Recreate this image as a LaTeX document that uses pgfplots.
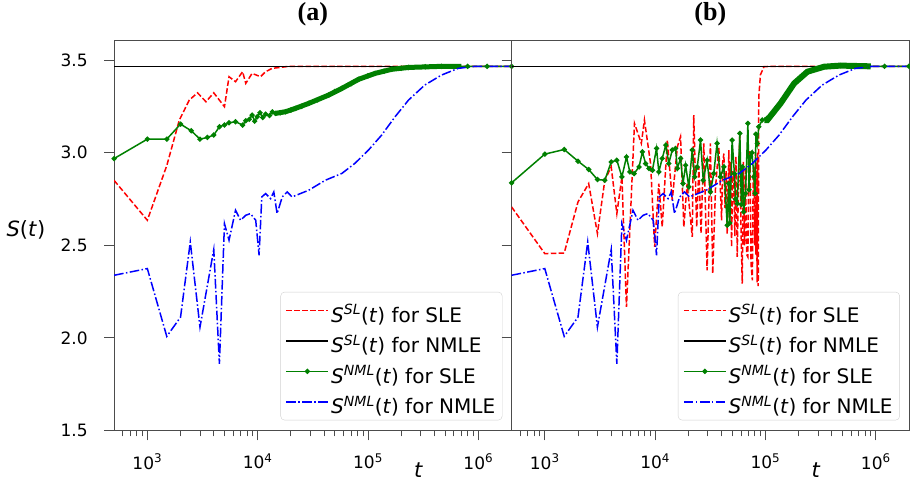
\documentclass[border=0pt]{standalone}
\usepackage{fontspec}
\setmainfont{DejaVu Sans}
\newfontfamily\titlefont{Liberation Serif}
\usepackage{pgfplots}
\pgfplotsset{compat=1.18}
\definecolor{mred}{RGB}{255,0,0}
\definecolor{mgreen}{RGB}{0,128,0}
\definecolor{mblue}{RGB}{0,0,255}
\newcommand{\lstrut}{\rule[-10bp]{0pt}{35bp}}
\newcommand{\Ssl}{\lstrut\textit{S}\textsuperscript{\textit{SL}}(\textit{t})}
\newcommand{\Snml}{\lstrut\textit{S}\textsuperscript{\textit{NML}}(\textit{t})}

\pgfplotsset{
 legend image code/.code={\draw[mark repeat=2,mark phase=2,#1] plot coordinates {(0bp,0bp) (21bp,0bp) (42bp,0bp)};},
}

\begin{document}
\begin{tikzpicture}
\useasboundingbox (-114bp,-50bp) rectangle (795bp,430bp);

% ---------------- (a) ----------------
\begin{axis}[
  xmode=log,
  scale only axis, width=397bp, height=390bp,
  xmin=500, xmax=2000000, ymin=1.5, ymax=3.608,
  at={(0bp,0bp)}, anchor=south west,
  ytick={1.5,2.0,2.5,3.0,3.5},
  yticklabels={1.5,2.0,2.5,3.0,3.5},
  xtick={1000,10000,100000,1000000},
  xticklabels={10\textsuperscript{3},10\textsuperscript{4},10\textsuperscript{5},10\textsuperscript{6}},
  minor xtick={600,700,800,900,2000,3000,4000,5000,6000,7000,8000,9000,20000,30000,40000,50000,60000,70000,80000,90000,200000,300000,400000,500000,600000,700000,800000,900000},
  tick align=outside, tick pos=left,
  major tick length=10bp, minor tick length=6bp,
  tick style={black!70, line width=0.8bp},
  axis line style={black!70, line width=0.8bp},
  ticklabel style={font=\fontsize{17bp}{20bp}\selectfont},
  yticklabel shift=13bp,
  xticklabel shift=10bp,
  xlabel={\textit{t}},
  xlabel style={font=\fontsize{21bp}{24bp}\selectfont, inner sep=0pt, at={(axis description cs:0.766,-0.101)}, anchor=center},
  ylabel={\textit{S}(\textit{t})},
  ylabel style={font=\fontsize{21bp}{24bp}\selectfont, rotate=-90, at={(axis description cs:-0.222,0.513)}, anchor=center},
  title={(a)},
  title style={font=\titlefont\bfseries\fontsize{26bp}{29bp}\selectfont, at={(axis description cs:0.5,1.05)}, anchor=center},
  legend cell align=left,
  legend style={at={(0.977,0.026)}, anchor=south east, draw=black!18, rounded corners=4bp,
    fill=white, fill opacity=0.8, text opacity=1, font=\fontsize{20bp}{24bp}\selectfont,
    inner xsep=5bp, inner ysep=3bp},
]
\addplot[mred, line width=1.5bp, dash pattern=on 5.5bp off 2.4bp, mark=none] coordinates {
(500,2.85)(1000,2.635)(1500,2.93)(1950,3.176)(2400,3.284)(2850,3.323)(3400,3.275)(4000,3.323)(5000,3.248)(5500,3.41)(6300,3.383)(7300,3.437)(7800,3.374)(8900,3.428)(10600,3.41)(11800,3.437)(13500,3.455)(19200,3.466)(2000000,3.466)};
\addlegendentry{\Ssl\ for SLE}
\addplot[black, line width=1.5bp, mark=none] coordinates {(500,3.466)(2000000,3.466)};
\addlegendentry{\Ssl\ for NMLE}
\addplot[mgreen, line width=5bp, mark=none, forget plot] coordinates {
(14500,3.212)(17900,3.221)(22000,3.239)(29000,3.266)(44000,3.311)(58000,3.347)(82200,3.396)(116000,3.428)(164000,3.45)(233000,3.46)(462000,3.466)(700000,3.466)};
\addplot[mgreen, line width=1.5bp, mark=*, mark size=1.8bp, mark options={solid}] coordinates {
(500,2.968)(1000,3.073)(1500,3.073)(2000,3.154)(2500,3.118)(3000,3.073)(3500,3.082)(4000,3.095)(4500,3.14)(5000,3.149)(5500,3.161)(6300,3.167)(7300,3.149)(7800,3.172)(8400,3.18)(8900,3.203)(9400,3.17)(9900,3.194)(10500,3.215)(11100,3.19)(11800,3.208)(12800,3.2)(13600,3.22)(14500,3.212)(16000,3.215)(17900,3.221)(20000,3.23)(22000,3.239)(25000,3.25)(29000,3.266)(35000,3.285)(44000,3.311)(50000,3.33)(58000,3.347)(70000,3.372)(82200,3.396)(100000,3.415)(116000,3.428)(140000,3.44)(164000,3.45)(200000,3.456)(233000,3.46)(330000,3.464)(462000,3.466)(800000,3.466)(1200000,3.466)(2000000,3.466)};
\addlegendentry{\Snml\ for SLE}
\addplot[mblue, line width=1.5bp, dash pattern=on 9.6bp off 2.4bp on 1.5bp off 2.4bp, mark=none] coordinates {
(500,2.338)(1000,2.374)(1500,2.008)(2000,2.112)(2450,2.518)(3000,2.058)(4000,2.477)(4500,1.86)(5000,2.617)(5500,2.527)(6300,2.689)(7000,2.635)(7800,2.662)(8600,2.671)(9600,2.635)(10300,2.446)(10900,2.761)(11800,2.779)(13100,2.752)(14000,2.788)(15000,2.671)(16700,2.761)(18500,2.788)(20500,2.761)(29000,2.797)(41000,2.851)(58000,2.888)(76000,2.942)(101000,3.014)(133000,3.095)(176000,3.194)(233000,3.284)(327000,3.365)(464000,3.419)(655000,3.455)(930000,3.466)(2000000,3.466)};
\addlegendentry{\Snml\ for NMLE}
\end{axis}

% ---------------- (b) ----------------
\begin{axis}[
  xmode=log,
  scale only axis, width=397bp, height=390bp,
  xmin=500, xmax=2000000, ymin=1.5, ymax=3.608,
  at={(397bp,0bp)}, anchor=south west,
  ytick={1.5,2.0,2.5,3.0,3.5},
  yticklabels={},
  xtick={1000,10000,100000,1000000},
  xticklabels={10\textsuperscript{3},10\textsuperscript{4},10\textsuperscript{5},10\textsuperscript{6}},
  minor xtick={600,700,800,900,2000,3000,4000,5000,6000,7000,8000,9000,20000,30000,40000,50000,60000,70000,80000,90000,200000,300000,400000,500000,600000,700000,800000,900000},
  tick align=outside, tick pos=left,
  major tick length=10bp, minor tick length=6bp,
  tick style={black!70, line width=0.8bp},
  axis line style={black!70, line width=0.8bp},
  ticklabel style={font=\fontsize{17bp}{20bp}\selectfont},
  xticklabel shift=10bp,
  xlabel={\textit{t}},
  xlabel style={font=\fontsize{21bp}{24bp}\selectfont, inner sep=0pt, at={(axis description cs:0.766,-0.101)}, anchor=center},
  title={(b)},
  title style={font=\titlefont\bfseries\fontsize{26bp}{29bp}\selectfont, at={(axis description cs:0.5,1.05)}, anchor=center},
  legend cell align=left,
  legend style={at={(0.977,0.026)}, anchor=south east, draw=black!18, rounded corners=4bp,
    fill=white, fill opacity=0.8, text opacity=1, font=\fontsize{20bp}{24bp}\selectfont,
    inner xsep=5bp, inner ysep=3bp},
]
\addplot[mred, line width=1.5bp, dash pattern=on 5.5bp off 2.4bp, mark=none] coordinates {
(500,2.707)(1000,2.455)(1500,2.458)(2000,2.734)(2500,2.833)(3000,2.563)(3500,2.851)(4000,2.923)(4500,2.671)(5000,2.869)(5500,2.167)(6500,3.158)(7500,3.05)(8000,3.176)(9100,2.94)(9900,2.491)(10800,2.833)(11600,2.599)(12900,3.068)(14300,2.743)(15900,3.031)(17000,3.086)(18200,2.599)(19500,2.833)(21700,2.545)(22400,3.203)(23800,2.599)(24900,2.923)(26100,2.563)(27600,3.05)(29600,2.365)(31700,3.05)(33300,2.347)(35300,2.815)(37800,3.031)(40000,2.635)(41000,2.95)(42000,2.995)(43000,2.7)(44000,2.9)(45000,2.563)(46600,3.014)(47500,2.65)(48300,2.95)(49300,2.491)(50500,2.9)(51700,2.833)(52800,2.55)(54000,2.98)(55500,2.437)(57000,2.85)(58600,3.104)(60000,2.6)(61600,2.293)(63000,2.95)(64500,2.5)(66000,2.923)(67500,2.45)(69300,2.437)(70500,2.95)(72400,3.014)(74000,2.4)(76100,2.311)(77500,2.9)(78700,2.923)(80000,2.5)(81000,3.0)(82000,2.45)(83000,2.95)(84000,2.3)(85000,3.0)(86000,2.28)(87000,3.3)(90000,3.42)(97000,3.464)(111000,3.466)(2000000,3.466)};
\addlegendentry{\Ssl\ for SLE}
\addplot[black, line width=1.5bp, mark=none] coordinates {(500,3.466)(2000000,3.466)};
\addlegendentry{\Ssl\ for NMLE}
\addplot[mgreen, line width=6bp, mark=none, forget plot] coordinates {
(98000,3.176)(104000,3.176)(137000,3.266)(182000,3.374)(240000,3.437)(340000,3.464)(478000,3.47)(900000,3.466)};
\addplot[mgreen, line width=1.5bp, mark=*, mark size=1.8bp, mark options={solid}] coordinates {
(500,2.837)(1000,2.992)(1500,3.017)(2000,2.954)(2500,2.909)(3000,2.855)(3500,2.851)(4000,2.95)(4500,2.959)(5000,2.869)(5500,2.977)(5900,2.896)(6450,2.887)(7150,2.923)(7670,3.004)(8200,2.941)(8800,2.915)(9450,2.905)(10300,3.023)(10800,2.896)(11600,2.969)(12500,3.041)(13300,2.941)(14300,3.014)(15300,3.023)(15900,2.915)(17000,2.969)(17900,2.833)(18900,2.932)(20200,2.815)(21700,3.014)(22800,2.869)(24100,2.923)(25800,3.068)(27300,2.851)(29600,2.959)(31700,2.788)(34000,2.887)(36400,3.05)(39000,2.869)(42000,2.923)(45000,2.608)(46500,2.833)(47500,2.62)(49900,3.068)(52300,2.887)(53500,2.75)(55500,2.725)(58600,3.104)(60500,2.72)(61700,2.923)(63500,2.68)(66000,2.779)(69300,3.158)(71000,2.8)(73100,2.977)(75500,3.0)(78600,2.869)(80500,2.78)(82000,3.1)(84300,3.05)(87000,3.14)(93500,3.176)(103000,3.185)(104000,3.176)(137000,3.266)(182000,3.374)(240000,3.437)(340000,3.464)(478000,3.47)(800000,3.466)(1200000,3.466)(2000000,3.466)};
\addlegendentry{\Snml\ for SLE}
\addplot[mblue, line width=1.5bp, dash pattern=on 9.6bp off 2.4bp on 1.5bp off 2.4bp, mark=none] coordinates {
(500,2.338)(1000,2.374)(1500,2.008)(2000,2.112)(2450,2.518)(3000,2.058)(4000,2.477)(4500,1.86)(5000,2.617)(5500,2.527)(6300,2.689)(7000,2.635)(7800,2.662)(8600,2.671)(9600,2.635)(10300,2.446)(10900,2.761)(11800,2.779)(13100,2.752)(14000,2.788)(15000,2.671)(16700,2.761)(18500,2.788)(20500,2.761)(29000,2.797)(41000,2.851)(58000,2.888)(76000,2.942)(101000,3.014)(133000,3.095)(176000,3.194)(233000,3.284)(327000,3.365)(464000,3.419)(655000,3.455)(930000,3.466)(2000000,3.466)};
\addlegendentry{\Snml\ for NMLE}
\end{axis}
\end{tikzpicture}
\end{document}
